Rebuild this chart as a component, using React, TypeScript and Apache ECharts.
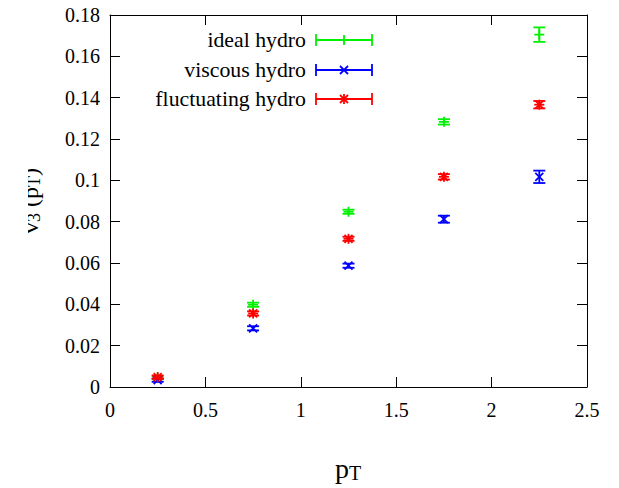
import React, { useEffect, useRef } from "react";
import * as echarts from "echarts";

// [pT, v3, error]
const ptValues = [0.25, 0.75, 1.25, 1.75, 2.25];
const idealV3 = [0.0045, 0.0398, 0.0848, 0.1283, 0.1705];
const idealErr = [0.0008, 0.001, 0.001, 0.0013, 0.0035];
const viscousV3 = [0.0033, 0.0284, 0.0587, 0.0812, 0.1017];
const viscousErr = [0.0008, 0.001, 0.001, 0.0017, 0.003];
const fluctV3 = [0.0048, 0.0356, 0.0717, 0.1017, 0.1366];
const fluctErr = [0.0008, 0.001, 0.001, 0.0013, 0.0018];

const seriesNames = ["ideal hydro", "viscous hydro", "fluctuating hydro"];
const seriesColors = ["#00f000", "#0000ff", "#ff0000"];
const seriesMarkers = ["plus", "cross", "star"];

const FONT = "'Liberation Serif', 'Times New Roman', serif";

function markerShapes(kind: string, cx: number, cy: number, color: string) {
  const s = 5;
  const d = 4;
  const st = { stroke: color, lineWidth: 1.8 };
  const out: any[] = [];
  if (kind === "plus" || kind === "star") {
    out.push({ type: "line", shape: { x1: cx - s, y1: cy, x2: cx + s, y2: cy }, style: st });
    out.push({ type: "line", shape: { x1: cx, y1: cy - s, x2: cx, y2: cy + s }, style: st });
  }
  if (kind === "cross" || kind === "star") {
    out.push({ type: "line", shape: { x1: cx - d, y1: cy - d, x2: cx + d, y2: cy + d }, style: st });
    out.push({ type: "line", shape: { x1: cx - d, y1: cy + d, x2: cx + d, y2: cy - d }, style: st });
  }
  return out;
}

function makeSeries(idx: number, vals: number[], errs: number[]) {
  const color = seriesColors[idx];
  const marker = seriesMarkers[idx];
  return {
    type: "custom",
    name: seriesNames[idx],
    data: ptValues.map((x, i) => [x, vals[i], errs[i]]),
    encode: { x: 0, y: 1 },
    z: 10 + idx,
    renderItem: (params: any, api: any) => {
      const x = api.value(0);
      const y = api.value(1);
      const e = api.value(2);
      const p = api.coord([x, y]);
      const t = api.coord([x, y + e]);
      const b = api.coord([x, y - e]);
      const cap = 6;
      const st = { stroke: color, lineWidth: 1.8 };
      const children: any[] = [
        { type: "line", shape: { x1: p[0], y1: t[1], x2: p[0], y2: b[1] }, style: st },
        { type: "line", shape: { x1: p[0] - cap, y1: t[1], x2: p[0] + cap, y2: t[1] }, style: st },
        { type: "line", shape: { x1: p[0] - cap, y1: b[1], x2: p[0] + cap, y2: b[1] }, style: st },
        ...markerShapes(marker, p[0], p[1], color),
      ];
      return { type: "group", children };
    },
  };
}

function legendGraphics() {
  const rows = [40, 70, 99];
  const out: any[] = [];
  rows.forEach((ry, i) => {
    const c = seriesColors[i];
    const st = { stroke: c, lineWidth: 1.8 };
    out.push({
      type: "text",
      x: 306,
      y: ry,
      scaleX: 1.09,
      style: {
        text: seriesNames[i],
        font: `20px ${FONT}`,
        fill: "#000",
        align: "right",
        verticalAlign: "middle",
      },
    });
    out.push({ type: "line", shape: { x1: 316, y1: ry, x2: 372, y2: ry }, style: st });
    out.push({ type: "line", shape: { x1: 316, y1: ry - 6, x2: 316, y2: ry + 6 }, style: st });
    out.push({ type: "line", shape: { x1: 372, y1: ry - 6, x2: 372, y2: ry + 6 }, style: st });
    markerShapes(seriesMarkers[i], 344, ry, c).forEach((m) => out.push(m));
  });
  return out;
}

export default function App() {
  const ref = useRef<HTMLDivElement>(null);
  useEffect(() => {
    if (!ref.current) return;
    const chart = echarts.init(ref.current, null, { renderer: "svg" });
    const axisLine = { show: true, onZero: false, lineStyle: { color: "#000", width: 1 } };
    const axisTick = { show: true, inside: true, length: 10, lineStyle: { color: "#000", width: 1 } };
    const label = { color: "#000", fontFamily: FONT, fontSize: 20 };
    chart.setOption({
      animation: false,
      backgroundColor: "#fff",
      grid: { left: 110, right: 32, top: 15, bottom: 101, containLabel: false },
      xAxis: [
        {
          type: "value",
          min: 0,
          max: 2.5,
          interval: 0.5,
          position: "bottom",
          axisLine,
          axisTick,
          axisLabel: { ...label, margin: 13 },
          splitLine: { show: false },
        },
        {
          type: "value",
          min: 0,
          max: 2.5,
          interval: 0.5,
          position: "top",
          axisLine,
          axisTick,
          axisLabel: { show: false },
          splitLine: { show: false },
        },
      ],
      yAxis: [
        {
          type: "value",
          min: 0,
          max: 0.18,
          interval: 0.02,
          position: "left",
          axisLine,
          axisTick,
          axisLabel: { ...label, margin: 10 },
          splitLine: { show: false },
        },
        {
          type: "value",
          min: 0,
          max: 0.18,
          interval: 0.02,
          position: "right",
          axisLine,
          axisTick,
          axisLabel: { show: false },
          splitLine: { show: false },
        },
      ],
      graphic: [
        ...legendGraphics(),
        {
          type: "text",
          x: 348,
          y: 468,
          style: {
            text: "{a|p}{s|T}",
            align: "center",
            verticalAlign: "middle",
            rich: {
              a: { font: `28px ${FONT}`, fill: "#000" },
              s: { font: `20px ${FONT}`, fill: "#000", padding: [10, 0, 0, 0] },
            },
          },
        },
        {
          type: "text",
          x: 43,
          y: 201,
          rotation: Math.PI / 2,
          style: {
            text: "{a|v}{s|3}{a| (p}{s|T}{a|)}",
            align: "center",
            verticalAlign: "bottom",
            rich: {
              a: { font: `24px ${FONT}`, fill: "#000" },
              s: { font: `18px ${FONT}`, fill: "#000", padding: [8, 0, 0, 0] },
            },
          },
        },
        {
          type: "rect",
          shape: { x: 0, y: 140, width: 28, height: 130 },
          style: { fill: "#fff" },
          z: 100,
        },
      ],
      series: [
        makeSeries(0, idealV3, idealErr),
        makeSeries(1, viscousV3, viscousErr),
        makeSeries(2, fluctV3, fluctErr),
      ],
    });
    return () => chart.dispose();
  }, []);
  return (
    <div
      ref={ref}
      style={{ position: "absolute", left: 0, top: 0, width: 619, height: 488 }}
    />
  );
}
